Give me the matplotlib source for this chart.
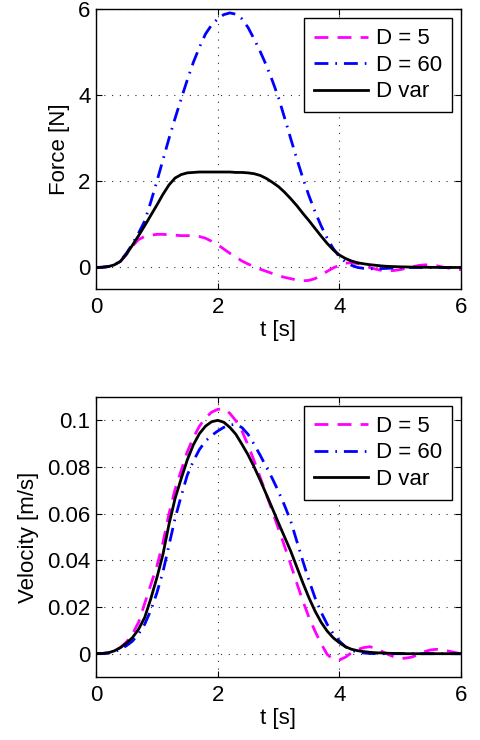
import numpy as np
import matplotlib
matplotlib.use('Agg')
import matplotlib.pyplot as plt

plt.rcParams['font.family'] = ['Liberation Sans', 'DejaVu Sans']
plt.rcParams['font.size'] = 16

#%% data (t step 0.1 s)
t = np.round(np.arange(0, 6.001, 0.1), 1)

force_d5 = [0, 0.005, 0.02, 0.06, 0.14, 0.3, 0.5, 0.65, 0.72, 0.75,
            0.77, 0.77, 0.76, 0.75, 0.74, 0.74, 0.74, 0.72, 0.68, 0.61,
            0.53, 0.43, 0.33, 0.24, 0.15, 0.08, 0.02, -0.04, -0.09, -0.14,
            -0.19, -0.23, -0.26, -0.29, -0.31, -0.3, -0.26, -0.18, -0.09, -0.01,
            0.05, 0.1, 0.11, 0.09, 0.05, 0.0, -0.04, -0.07, -0.08, -0.07,
            -0.05, -0.02, 0.015, 0.045, 0.06, 0.06, 0.04, 0.01, -0.015, -0.04,
            -0.05]
force_d60 = [0, 0.005, 0.02, 0.06, 0.15, 0.33, 0.55, 0.8, 1.08, 1.52,
             2.0, 2.5, 3.0, 3.47, 3.92, 4.36, 4.77, 5.12, 5.43, 5.64,
             5.78, 5.88, 5.92, 5.89, 5.78, 5.58, 5.31, 5.02, 4.7, 4.34,
             3.95, 3.48, 3.0, 2.53, 2.08, 1.67, 1.3, 0.97, 0.68, 0.44,
             0.25, 0.13, 0.05, 0.0, -0.02, -0.03, -0.03, -0.025, -0.02, -0.01,
             0, 0, 0, 0, 0, 0, 0, 0, 0, 0,
             0]
force_dvar = [0, 0.005, 0.02, 0.06, 0.14, 0.31, 0.52, 0.74, 0.97, 1.21,
              1.45, 1.7, 1.92, 2.08, 2.16, 2.2, 2.21, 2.22, 2.22, 2.22,
              2.22, 2.22, 2.22, 2.21, 2.21, 2.2, 2.18, 2.14, 2.07, 1.98,
              1.88, 1.75, 1.6, 1.44, 1.26, 1.09, 0.91, 0.73, 0.56, 0.41,
              0.29, 0.21, 0.15, 0.11, 0.085, 0.065, 0.05, 0.035, 0.025, 0.02,
              0.015, 0.012, 0.009, 0.007, 0.005, 0.003, 0.002, 0.001, 0.001, 0,
              0]

vel_d5 = [0, 0.0001, 0.0004, 0.0012, 0.0026, 0.005, 0.0085, 0.0135, 0.0215, 0.0295,
          0.0375, 0.0475, 0.06, 0.0705, 0.0785, 0.0865, 0.0926, 0.0975, 0.101, 0.1035,
          0.1047, 0.105, 0.103, 0.0998, 0.0954, 0.0893, 0.0826, 0.0755, 0.0683, 0.061,
          0.0535, 0.046, 0.0383, 0.0303, 0.0226, 0.0156, 0.0097, 0.0043, -0.0003, -0.0025,
          -0.0027, -0.0015, 0.0004, 0.0018, 0.0026, 0.003, 0.0023, 0.001, -0.0003, -0.0014,
          -0.002, -0.0019, -0.0014, -0.0003, 0.0009, 0.0016, 0.0019, 0.0016, 0.0011, 0.0005,
          0]
vel_d60 = [0, 0.0001, 0.0002, 0.0008, 0.0019, 0.0034, 0.0054, 0.0085, 0.0126, 0.0185,
           0.026, 0.035, 0.0465, 0.058, 0.0675, 0.0765, 0.0825, 0.0875, 0.0911, 0.0935,
           0.0954, 0.097, 0.098, 0.0983, 0.0969, 0.094, 0.0897, 0.085, 0.080, 0.075,
           0.0695, 0.0635, 0.0569, 0.0483, 0.0397, 0.0315, 0.024, 0.0178, 0.0126, 0.0085,
           0.0054, 0.003, 0.0014, 0.0007, 0.0003, 0.0001, 0, 0, 0, 0,
           0, 0, 0, 0, 0, 0, 0, 0, 0, 0,
           0]
vel_dvar = [0, 0.0001, 0.0004, 0.0012, 0.0026, 0.0045, 0.0069, 0.0105, 0.0155, 0.0235,
            0.0325, 0.0425, 0.0555, 0.0665, 0.075, 0.083, 0.0895, 0.0943, 0.0975, 0.0994,
            0.1, 0.0992, 0.097, 0.094, 0.0897, 0.0852, 0.080, 0.0743, 0.0683, 0.0622,
            0.056, 0.050, 0.044, 0.0372, 0.0304, 0.024, 0.0183, 0.0135, 0.0097, 0.0068,
            0.0047, 0.003, 0.0019, 0.0013, 0.0009, 0.0006, 0.0004, 0.0003, 0.0002, 0.0001,
            0.0001, 0, 0, 0, 0, 0, 0, 0, 0, 0,
            0]

labels = ['D = 5', 'D = 60', 'D var']
colors = ['#FF00FF', '#0000FF', '#000000']
styles = [(0, (5, 3.3)), (0, (5, 2.5, 0.6, 2.5)), '-']

#%%
def draw_panel(ax, series, ylabel, ylim, yticks, yticklabels):
    for i in range(len(series)):
        ax.plot(t, series[i], color=colors[i], linestyle=styles[i], lw=2, label=labels[i])
    ax.set_xlim(0, 6)
    ax.set_ylim(ylim)
    ax.set_xticks([0, 2, 4, 6])
    ax.set_yticks(yticks)
    ax.set_yticklabels(yticklabels)
    ax.grid(True, color='#333333', linestyle=(0, (1, 6)), lw=0.8)
    ax.tick_params(direction='in', top=True, right=True, length=4, width=0.8)
    ax.tick_params(axis='x', pad=6)
    ax.tick_params(axis='y', pad=4)
    for s in ax.spines.values():
        s.set_linewidth(1.0)
    ax.set_xlabel('t [s]', labelpad=1)
    ax.set_ylabel(ylabel, labelpad=6)
    leg = ax.legend(loc='upper right', fancybox=False, framealpha=1, edgecolor='black',
                    handlelength=2.45, handletextpad=0.35, labelspacing=0.25,
                    borderaxespad=0.4, borderpad=0.45, fontsize=16)
    leg.get_frame().set_linewidth(1.0)


fig = plt.figure(figsize=(4.81, 7.4), dpi=100)
ax1 = fig.add_axes([0.1996, 0.6095, 0.7588, 0.3777])
ax2 = fig.add_axes([0.1996, 0.0851, 0.7588, 0.3784])

draw_panel(ax1, [force_d5, force_d60, force_dvar], 'Force [N]', (-0.5, 6),
           [0, 2, 4, 6], ['0', '2', '4', '6'])
draw_panel(ax2, [vel_d5, vel_d60, vel_dvar], 'Velocity [m/s]', (-0.01, 0.11),
           [0, 0.02, 0.04, 0.06, 0.08, 0.1], ['0', '0.02', '0.04', '0.06', '0.08', '0.1'])

fig.savefig('out.png', dpi=100)
